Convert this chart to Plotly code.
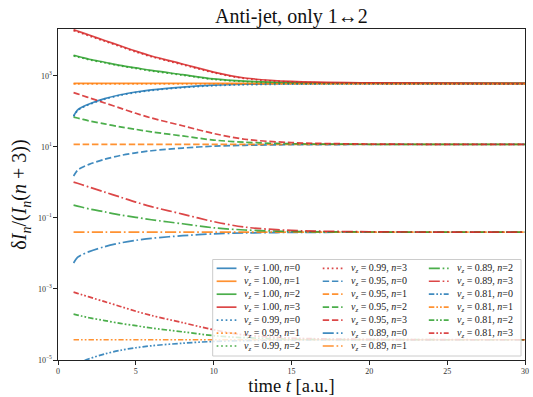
import plotly.graph_objects as go

# ---------------- data ----------------
time_t = [1, 1.25, 1.5, 2, 3, 4, 5, 6, 8, 10, 12, 15, 20, 30]

vz_labels = ["1.00", "0.99", "0.95", "0.89", "0.81"]
n_labels = [0, 1, 2, 3]

# values stored as log10(dI_n / (I_n (n+3)))
lg_100_n0 = [1.87, 2.036, 2.109, 2.21, 2.358, 2.468, 2.546, 2.606, 2.684, 2.739, 2.765, 2.782, 2.788, 2.79]
lg_100_n1 = [2.79, 2.79, 2.79, 2.79, 2.79, 2.79, 2.79, 2.79, 2.79, 2.79, 2.79, 2.79, 2.79, 2.79]
lg_100_n2 = [3.58, 3.552, 3.525, 3.469, 3.383, 3.296, 3.225, 3.153, 3.035, 2.916, 2.853, 2.81, 2.794, 2.79]
lg_100_n3 = [4.30, 4.262, 4.225, 4.149, 3.998, 3.847, 3.696, 3.56, 3.334, 3.107, 2.941, 2.843, 2.802, 2.79]

lg_099_n0 = [1.855, 2.021, 2.094, 2.195, 2.343, 2.453, 2.531, 2.591, 2.669, 2.724, 2.75, 2.767, 2.773, 2.775]
lg_099_n1 = [2.775, 2.775, 2.775, 2.775, 2.775, 2.775, 2.775, 2.775, 2.775, 2.775, 2.775, 2.775, 2.775, 2.775]
lg_099_n2 = [3.565, 3.537, 3.51, 3.454, 3.368, 3.281, 3.21, 3.138, 3.02, 2.901, 2.838, 2.795, 2.779, 2.775]
lg_099_n3 = [4.275, 4.238, 4.2, 4.125, 3.975, 3.825, 3.675, 3.54, 3.315, 3.09, 2.925, 2.828, 2.787, 2.775]

lg_095_n0 = [0.18, 0.34, 0.411, 0.509, 0.652, 0.758, 0.834, 0.892, 0.968, 1.021, 1.046, 1.062, 1.068, 1.07]
lg_095_n1 = [1.07, 1.07, 1.07, 1.07, 1.07, 1.07, 1.07, 1.07, 1.07, 1.07, 1.07, 1.07, 1.07, 1.07]
lg_095_n2 = [1.84, 1.813, 1.786, 1.732, 1.648, 1.563, 1.494, 1.424, 1.309, 1.193, 1.132, 1.089, 1.074, 1.07]
lg_095_n3 = [2.53, 2.494, 2.457, 2.384, 2.238, 2.092, 1.946, 1.815, 1.596, 1.377, 1.216, 1.121, 1.082, 1.07]

lg_089_n0 = [-2.27, -2.113, -2.044, -1.948, -1.809, -1.705, -1.631, -1.574, -1.50, -1.448, -1.423, -1.408, -1.402, -1.40]
lg_089_n1 = [-1.40, -1.40, -1.40, -1.40, -1.40, -1.40, -1.40, -1.40, -1.40, -1.40, -1.40, -1.40, -1.40, -1.40]
lg_089_n2 = [-0.64, -0.667, -0.693, -0.746, -0.83, -0.914, -0.982, -1.05, -1.164, -1.278, -1.339, -1.381, -1.396, -1.40]
lg_089_n3 = [0.01, -0.025, -0.06, -0.131, -0.272, -0.413, -0.554, -0.681, -0.892, -1.104, -1.259, -1.351, -1.389, -1.40]

lg_081_n0 = [-5.28, -5.127, -5.059, -4.966, -4.83, -4.728, -4.655, -4.60, -4.528, -4.477, -4.453, -4.438, -4.432, -4.43]
lg_081_n1 = [-4.43, -4.43, -4.43, -4.43, -4.43, -4.43, -4.43, -4.43, -4.43, -4.43, -4.43, -4.43, -4.43, -4.43]
lg_081_n2 = [-3.71, -3.735, -3.76, -3.811, -3.89, -3.969, -4.034, -4.099, -4.207, -4.315, -4.372, -4.412, -4.426, -4.43]
lg_081_n3 = [-3.09, -3.123, -3.157, -3.224, -3.358, -3.492, -3.626, -3.747, -3.948, -4.149, -4.296, -4.383, -4.419, -4.43]

y_tick_vals = [1e-5, 1e-3, 1e-1, 1e1, 1e3]
y_tick_text = ["10<sup>−5</sup>", "10<sup>−3</sup>", "10<sup>−1</sup>", "10<sup>1</sup>", "10<sup>3</sup>"]
x_tick_vals = [0, 5, 10, 15, 20, 25, 30]

series_by_vz = [
    [lg_100_n0, lg_100_n1, lg_100_n2, lg_100_n3],
    [lg_099_n0, lg_099_n1, lg_099_n2, lg_099_n3],
    [lg_095_n0, lg_095_n1, lg_095_n2, lg_095_n3],
    [lg_089_n0, lg_089_n1, lg_089_n2, lg_089_n3],
    [lg_081_n0, lg_081_n1, lg_081_n2, lg_081_n3],
]

# ---------------- styles ----------------
colors = ["#1f77b4", "#ff7f0e", "#2ca02c", "#d62728"]
dashes = ["solid", "1.7px,2.8px", "6.4px,2.8px", "11px,2.8px,1.7px,2.8px",
          "5.5px,2px,1.7px,2px,1.7px,2px"]
FONT = "Liberation Serif"

W, H = 533, 397
ML, MR, MT, MB = 58, 4, 29, 37
PW, PH = W - ML - MR, H - MT - MB


def px(xp):
    return (xp - ML) / PW


def py(yp):
    return (H - MB - yp) / PH


fig = go.Figure()
labels = []
for i, vz in enumerate(vz_labels):
    for j, n in enumerate(n_labels):
        lg = series_by_vz[i][j]
        fig.add_trace(go.Scatter(
            x=time_t, y=[10 ** v for v in lg], mode="lines",
            line=dict(color=colors[j], width=1.7, dash=dashes[i], shape="spline", smoothing=0.9),
            opacity=0.85, showlegend=False, hoverinfo="skip",
            name=f"v_z = {vz}, n={n}",
        ))
        labels.append((f"<i>v</i><sub><i>z</i></sub> = 1.00, <i>n</i>={n}".replace("1.00", vz),
                       colors[j], dashes[i]))

# ---------------- compact 3-column legend ----------------
shapes = [dict(type="rect", xref="paper", yref="paper",
               x0=px(214), x1=px(525), y0=py(356), y1=py(259.5),
               fillcolor="rgba(255,255,255,0.8)", line=dict(color="#cccccc", width=1),
               layer="above")]
annotations = []
for k, (txt, col, dsh) in enumerate(labels):
    c, r = k // 7, k % 7
    x0 = 218 + c * 107
    yk = 268.3 + r * 12.95
    shapes.append(dict(type="line", xref="paper", yref="paper",
                       x0=px(x0), x1=px(x0 + 20), y0=py(yk), y1=py(yk),
                       line=dict(color=col, width=1.7, dash=dsh), layer="above", opacity=0.85))
    annotations.append(dict(xref="paper", yref="paper", x=px(x0 + 26), y=py(yk + 0.5),
                            text=txt, showarrow=False, xanchor="left", yanchor="middle",
                            font=dict(family=FONT, size=10, color="#222")))

fig.update_layout(
    width=W, height=H,
    margin=dict(l=ML, r=MR, t=MT, b=MB, pad=0),
    paper_bgcolor="white", plot_bgcolor="white",
    title=dict(text="Anti-jet, only 1↔2", x=0.5, xref="paper", xanchor="center",
               y=1 - 16 / H, yref="container", yanchor="middle",
               font=dict(family=FONT, size=20, color="#111")),
    shapes=shapes, annotations=annotations,
    showlegend=False,
)
fig.update_xaxes(
    range=[0, 30], tickvals=x_tick_vals, ticks="outside", ticklen=3.5, tickcolor="#222",
    showgrid=False, zeroline=False, showline=True, linecolor="#222", linewidth=1.1, mirror=True,
    tickfont=dict(family=FONT, size=8, color="#333"),
    title=dict(text="time <i>t</i> [a.u.]", font=dict(family=FONT, size=18.5, color="#111"), standoff=2),
)
fig.update_yaxes(
    type="log", range=[-5, 4.32], tickvals=y_tick_vals, ticktext=y_tick_text,
    ticks="outside", ticklen=3.5, tickcolor="#222",
    showgrid=False, zeroline=False, showline=True, linecolor="#222", linewidth=1.1, mirror=True,
    tickfont=dict(family=FONT, size=8, color="#333"),
    title=dict(text="δ<i>I</i><sub><i>n</i></sub>/(<i>I</i><sub><i>n</i></sub>(<i>n</i> + 3))",
               font=dict(family=FONT, size=20, color="#111"), standoff=5),
)

fig.write_html("out.html", config={"displayModeBar": False},
               post_script="document.body.style.margin='0';document.body.style.padding='0';")
